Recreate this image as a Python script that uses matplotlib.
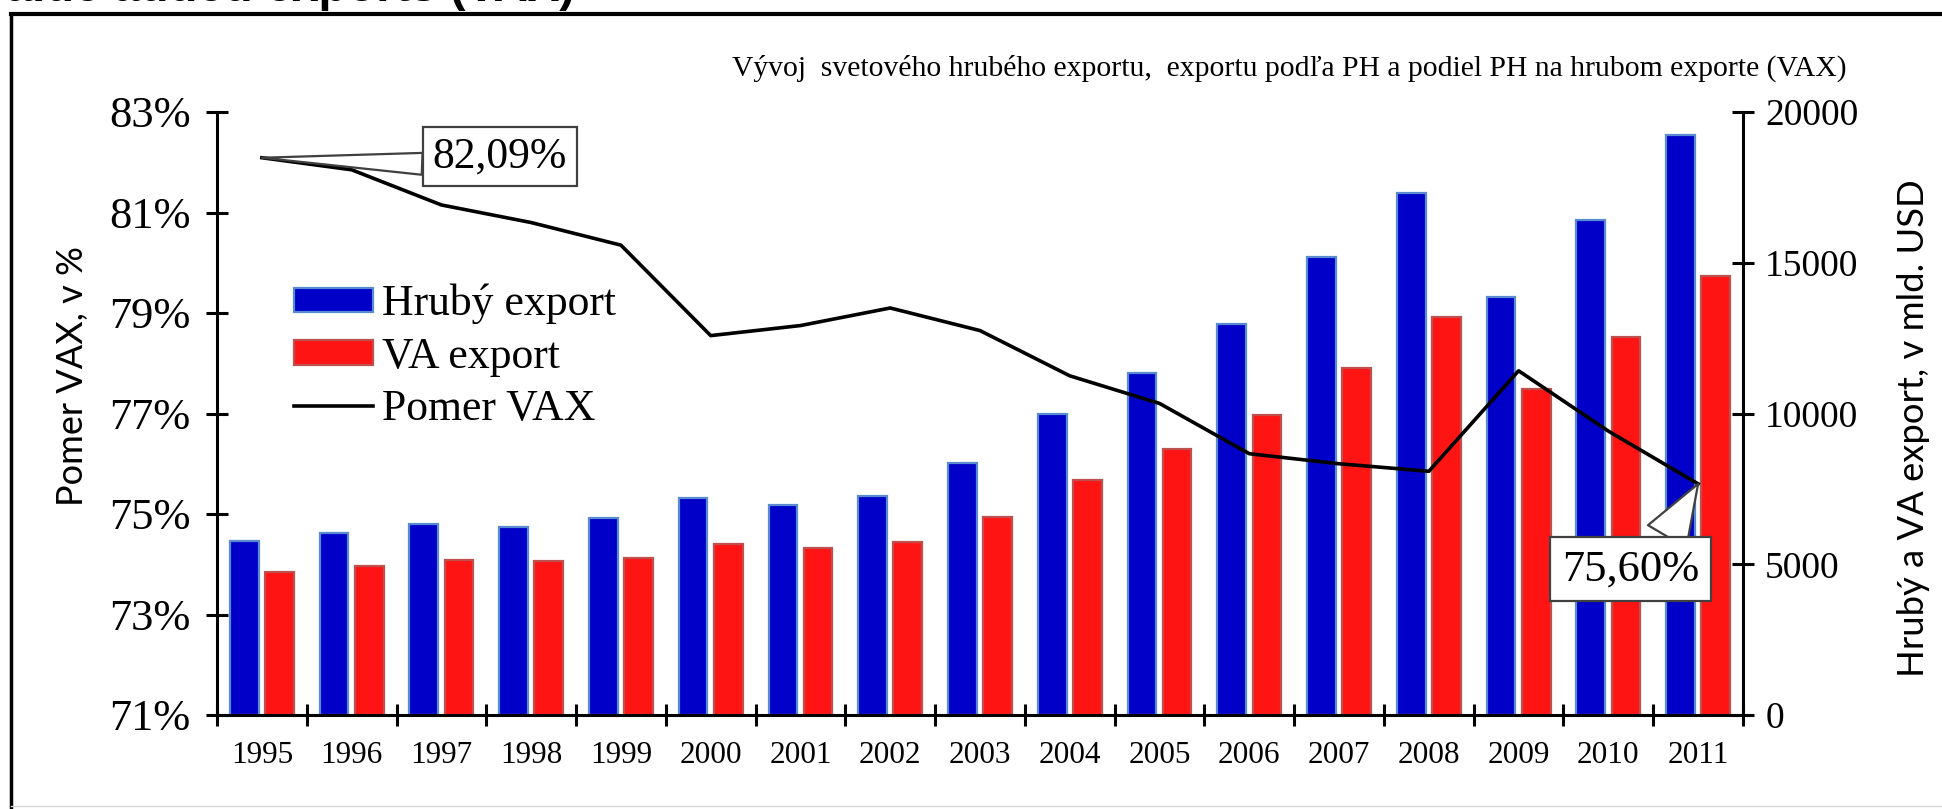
import numpy as np
from matplotlib import pyplot as plt
from matplotlib.lines import Line2D

plt.rcParams['font.family'] = ['Liberation Serif', 'DejaVu Serif']

# data
years = ['1995', '1996', '1997', '1998', '1999', '2000', '2001', '2002', '2003',
         '2004', '2005', '2006', '2007', '2008', '2009', '2010', '2011']
hruby_export = [5770, 6050, 6330, 6250, 6520, 7200, 6980, 7260, 8360,
                10000, 11330, 12970, 15190, 17330, 13850, 16410, 19230]
va_export = [4740, 4940, 5150, 5100, 5210, 5670, 5540, 5730, 6570,
             7810, 8810, 9950, 11510, 13190, 10810, 12550, 14560]
pomer_vax = [82.09, 81.85, 81.15, 80.80, 80.35, 78.55, 78.75, 79.10, 78.65,
             77.75, 77.20, 76.20, 76.00, 75.85, 77.85, 76.65, 75.60]

W, H = 1942, 809
fig = plt.figure(figsize=(W / 100, H / 100), dpi=100)
ax = fig.add_axes([217 / W, 1 - 715 / H, (1743 - 217) / W, (715 - 112) / H])
ax2 = ax.twinx()

x = np.arange(len(years))
w = 0.32
off = 0.196
ax2.bar(x - off, hruby_export, w, color='#0000C8', edgecolor='#5A8AD0', linewidth=1.6, label='Hrubý export')
ax2.bar(x + off, va_export, w, color='#FF1414', edgecolor='#C0504D', linewidth=1.6, label='VA export')
ax.plot(x, pomer_vax, color='black', lw=2.6, label='Pomer VAX')

ax.set_zorder(ax2.get_zorder() + 1)
ax.patch.set_visible(False)

ax.set_xlim(-0.5, 16.5)
ax.set_ylim(71, 83)
ax2.set_ylim(0, 20000)
ax.set_yticks(np.arange(71, 84, 2))
ax.yaxis.set_major_formatter(lambda v, p: '%d%%' % v)
ax2.set_yticks(np.arange(0, 20001, 5000))

ax.set_xticks(x)
ax.set_xticklabels(years)
ax.set_xticks(np.arange(-0.5, 17, 1), minor=True)
ax.tick_params(axis='x', which='major', length=0, pad=19, labelsize=22.5)
ax.tick_params(axis='x', which='minor', direction='inout', length=16, width=2.2)
ax.tick_params(axis='y', direction='inout', length=16, width=2.2, labelsize=32, pad=11)
ax2.tick_params(axis='y', direction='inout', length=16, width=2.2, labelsize=27, pad=8)

for s in ['top', 'right']:
    ax.spines[s].set_visible(False)
for s in ['top', 'left', 'bottom']:
    ax2.spines[s].set_visible(False)
ax.spines['left'].set_linewidth(2.2)
ax.spines['bottom'].set_linewidth(2.2)
ax2.spines['right'].set_linewidth(2.2)

# legend
h1, l1 = ax2.get_legend_handles_labels()
h2, l2 = ax.get_legend_handles_labels()
ax.legend(h1 + h2, l1 + l2, loc='upper left', bbox_to_anchor=(294 / W, 1 - 284 / H),
          bbox_transform=fig.transFigure, frameon=False, fontsize=31.5,
          handlelength=1.8, handleheight=0.5, handletextpad=0.2,
          labelspacing=0.28, borderpad=0, borderaxespad=0)

# callouts
ax.annotate('82,09%', xy=(0, pomer_vax[0]), xytext=(2.65, 82.12), ha='center', va='center',
            fontsize=31.5, bbox=dict(boxstyle='square,pad=0.22', fc='white', ec='#404040', lw=1.6),
            arrowprops=dict(arrowstyle='wedge,tail_width=0.5,shrink_factor=0.5', fc='white',
                            ec='#404040', lw=1.6, relpos=(0, 0.3), shrinkA=0, shrinkB=0))
ax.annotate('75,60%', xy=(16, pomer_vax[-1]), xytext=(15.25, 73.9), ha='center', va='center',
            fontsize=32, bbox=dict(boxstyle='square,pad=0.27', fc='white', ec='#404040', lw=1.6),
            arrowprops=dict(arrowstyle='wedge,tail_width=1.0,shrink_factor=0.5', fc='white',
                            ec='#404040', lw=1.6, relpos=(0.71, 1), shrinkA=0, shrinkB=0))

# texts
fig.text(1289 / W, 1 - 68 / H,
         'Vývoj  svetového hrubého exportu,  exportu podľa PH a podiel PH na hrubom exporte (VAX)',
         ha='center', va='center', fontsize=21.3)
fig.text(72 / W, 1 - 376 / H, 'Pomer VAX, v %', rotation=90, ha='center', va='center',
         family=['Lato', 'DejaVu Sans'], fontsize=26)
fig.text(1913 / W, 1 - 428 / H, 'Hrubý a VA export, v mld. USD', rotation=90, ha='center',
         va='center', family=['Lato', 'DejaVu Sans'], fontsize=26.2)
# title of the slide, mostly above the picture edge
fig.text(575 / W, 1 - 1 / H, 'Value added exports (VAX)', ha='right', va='baseline',
         family=['Liberation Sans', 'DejaVu Sans'], fontweight='bold', fontsize=34)

# frame around the picture
fig.add_artist(Line2D([11 / W, 11 / W], [0, 1 - 14 / H], transform=fig.transFigure, color='black', lw=2.5))
fig.add_artist(Line2D([11 / W, 1], [1 - 14 / H, 1 - 14 / H], transform=fig.transFigure, color='black', lw=3))
fig.add_artist(Line2D([11 / W, 1], [1 - 806 / H, 1 - 806 / H], transform=fig.transFigure, color='#d8d8d8', lw=1))

fig.savefig('out.png', dpi=100)
